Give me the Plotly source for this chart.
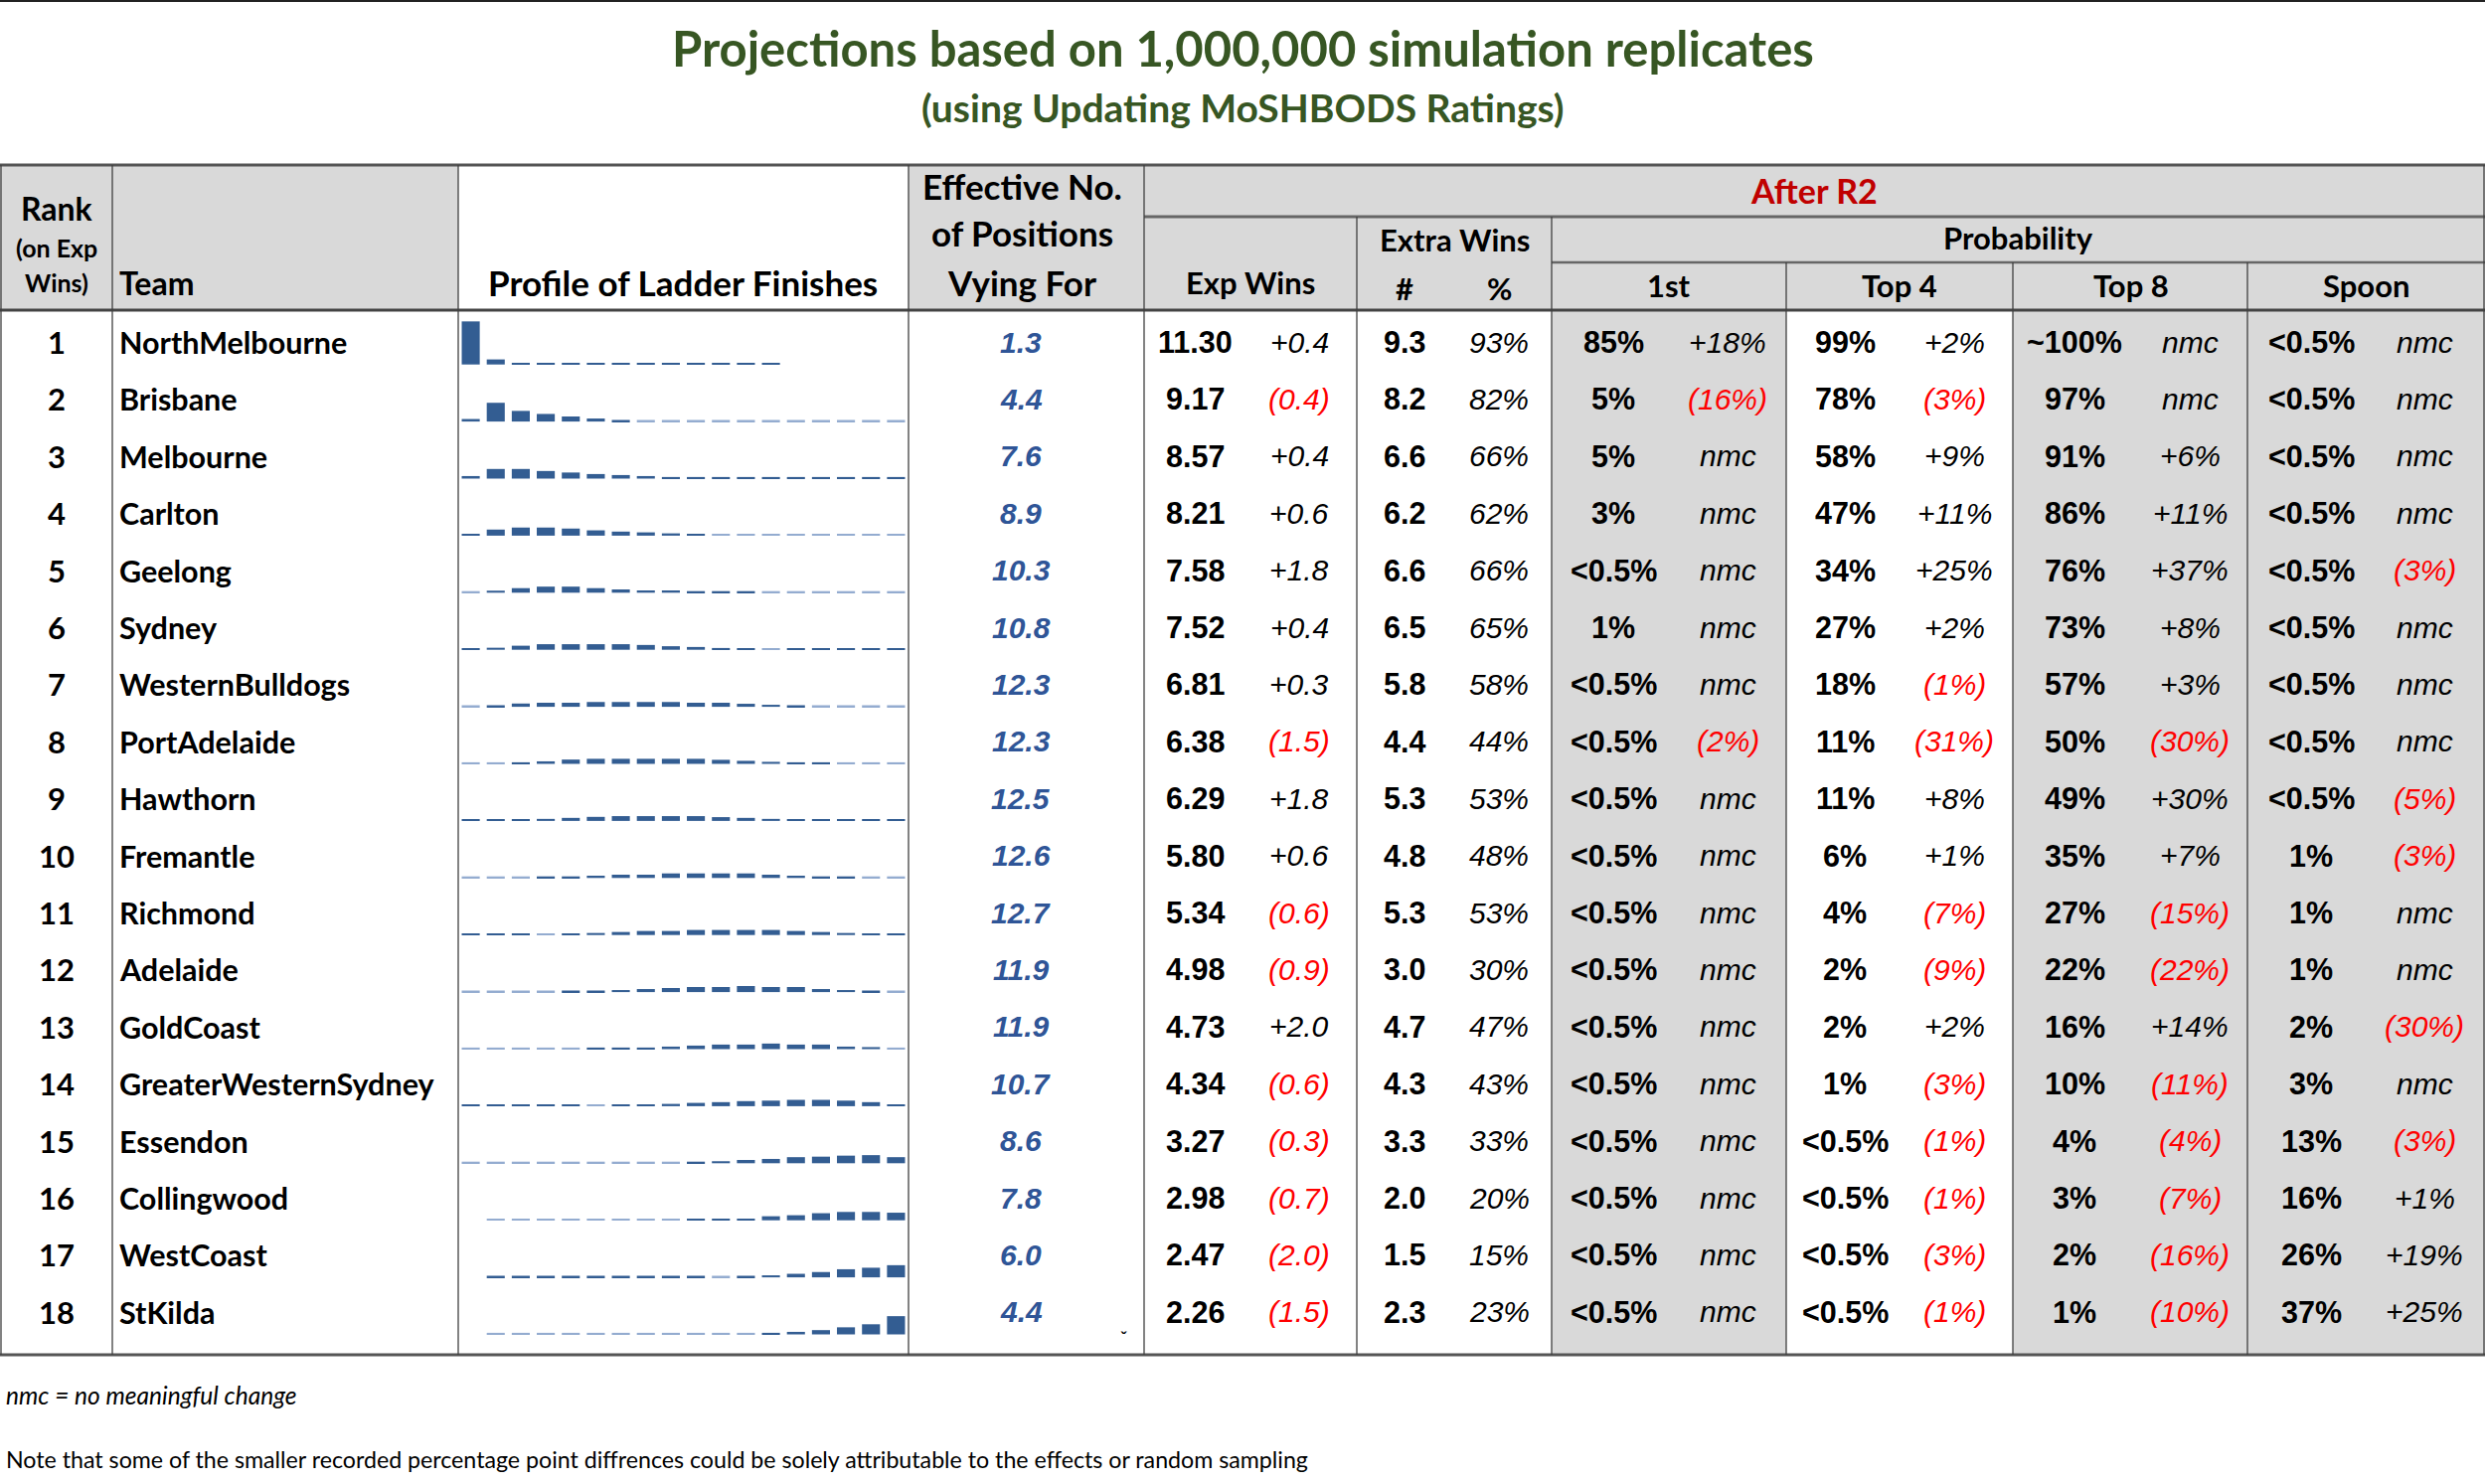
import plotly.graph_objects as go

# ---- data ----
teams = ["NorthMelbourne", "Brisbane", "Melbourne", "Carlton", "Geelong", "Sydney",
         "WesternBulldogs", "PortAdelaide", "Hawthorn", "Fremantle", "Richmond", "Adelaide",
         "GoldCoast", "GreaterWesternSydney", "Essendon", "Collingwood", "WestCoast", "StKilda"]
ranks = list(range(1, 19))
eff_positions = ["1.3", "4.4", "7.6", "8.9", "10.3", "10.8", "12.3", "12.3", "12.5",
                 "12.6", "12.7", "11.9", "11.9", "10.7", "8.6", "7.8", "6.0", "4.4"]
exp_wins = ["11.30", "9.17", "8.57", "8.21", "7.58", "7.52", "6.81", "6.38", "6.29",
            "5.80", "5.34", "4.98", "4.73", "4.34", "3.27", "2.98", "2.47", "2.26"]
exp_wins_chg = ["+0.4", "(0.4)", "+0.4", "+0.6", "+1.8", "+0.4", "+0.3", "(1.5)", "+1.8",
                "+0.6", "(0.6)", "(0.9)", "+2.0", "(0.6)", "(0.3)", "(0.7)", "(2.0)", "(1.5)"]
extra_wins = ["9.3", "8.2", "6.6", "6.2", "6.6", "6.5", "5.8", "4.4", "5.3",
              "4.8", "5.3", "3.0", "4.7", "4.3", "3.3", "2.0", "1.5", "2.3"]
extra_pct = ["93%", "82%", "66%", "62%", "66%", "65%", "58%", "44%", "53%",
             "48%", "53%", "30%", "47%", "43%", "33%", "20%", "15%", "23%"]
p_first = ["85%", "5%", "5%", "3%", "<0.5%", "1%"] + ["<0.5%"] * 12
p_first_chg = ["+18%", "(16%)", "nmc", "nmc", "nmc", "nmc", "nmc", "(2%)", "nmc",
               "nmc", "nmc", "nmc", "nmc", "nmc", "nmc", "nmc", "nmc", "nmc"]
p_top4 = ["99%", "78%", "58%", "47%", "34%", "27%", "18%", "11%", "11%",
          "6%", "4%", "2%", "2%", "1%", "<0.5%", "<0.5%", "<0.5%", "<0.5%"]
p_top4_chg = ["+2%", "(3%)", "+9%", "+11%", "+25%", "+2%", "(1%)", "(31%)", "+8%",
              "+1%", "(7%)", "(9%)", "+2%", "(3%)", "(1%)", "(1%)", "(3%)", "(1%)"]
p_top8 = ["~100%", "97%", "91%", "86%", "76%", "73%", "57%", "50%", "49%",
          "35%", "27%", "22%", "16%", "10%", "4%", "3%", "2%", "1%"]
p_top8_chg = ["nmc", "nmc", "+6%", "+11%", "+37%", "+8%", "+3%", "(30%)", "+30%",
              "+7%", "(15%)", "(22%)", "+14%", "(11%)", "(4%)", "(7%)", "(16%)", "(10%)"]
p_spoon = ["<0.5%"] * 9 + ["1%", "1%", "1%", "2%", "3%", "13%", "16%", "26%", "37%"]
p_spoon_chg = ["nmc", "nmc", "nmc", "nmc", "(3%)", "nmc", "nmc", "nmc", "(5%)",
               "(3%)", "nmc", "nmc", "(30%)", "nmc", "(3%)", "+1%", "+19%", "+25%"]

# ladder finish profile (% chance of finishing 1st..18th), read off the sparklines
# None = no bar, 0 = lowest (pale) bar
ladder_positions = list(range(1, 19))
profile = [
    [85, 10, 3, 1, 0.5, 0.4, 0.3, 0.2, 0.2, 0.1, 0.1, 0.1, 0.1, None, None, None, None, None],
    [5, 37, 21, 15, 10, 6, 3, 0, 0, 0, 0, 0, 0, 0, 0, 0, 0, 0],
    [5, 19, 19, 15, 12, 9, 7, 5, 3, 1, 0.5, 0.5, 0.4, 0.3, 0.3, 0.2, 0.2, 0.1],
    [3, 12, 16, 16, 14, 10.5, 8, 6.5, 4.5, 2.5, 0, 0, 0, 0, 0, 0, 0, 0],
    [0, 4, 9, 12, 12, 9, 6.5, 4.5, 4.5, 2.5, 1.5, 1.5, 0, 0, 0, 0, 0, 0],
    [1, 4, 8, 11, 11, 11, 11, 9.5, 7, 5.5, 3.5, 1.5, 0, 0.5, 0.4, 0.3, 0.2, 0.1],
    [0, 1.5, 6.5, 8, 8, 9.5, 9.5, 9.5, 9.5, 8, 8, 6, 4, 1.5, 0, 0, 0, 0],
    [0, 0, 1.5, 5, 8.5, 10, 10, 10, 10, 10, 8, 6, 4, 2, 2, 0, 0, 0],
    [0.5, 0.5, 2, 4, 6, 8, 9.5, 9.5, 9.5, 9.5, 7.5, 6, 4, 2, 2, 0.5, 0.3, 0.2],
    [0, 0, 0, 1.5, 3, 4.5, 6.5, 6.5, 9, 9, 9, 9, 6.5, 4.5, 2.5, 1.5, 0, 0],
    [0.3, 0.3, 0.3, 0, 2, 4, 6, 8, 8, 10, 10, 10, 10, 8, 6, 4, 2, 1],
    [0, 0, 0, 0, 1, 1, 4, 6, 8, 10, 10, 12, 10, 10, 6, 4, 1.5, 0],
    [0, 0, 0, 0, 0, 1, 1.5, 3, 5, 7, 9, 9, 11, 9, 9, 5, 4, 0],
    [0.3, 0.3, 0.3, 0.3, 0.3, 0, 2.5, 2.5, 4.5, 6.5, 8, 10, 11, 12.5, 12.5, 11, 8, 3],
    [0, 0, 0, 0, 0, 0, 0, 0, 0, 2, 4, 6.5, 8.5, 12, 13, 15, 16, 12],
    [None, 0, 0, 0, 0, 0, 0, 0, 0, 1, 1, 3, 8, 10, 14, 16.5, 16.5, 15],
    [None, 0.2, 0.2, 0.2, 0.2, 0.2, 0.2, 0.2, 0.2, 0.2, 0, 2, 4, 7, 10.5, 16, 19, 24],
    [None, 0, 0, 0, 0, 0, 0, 0, 0, 0, 0, 0, 1, 5, 8.5, 14, 20, 36],
]

# ---- layout constants (pixel space) ----
W, H = 2500, 1493
HEAD_TOP, HEAD_BOT, TABLE_BOT = 166, 312, 1363
ROW0, ROW_STEP = 344, 57.4
SPARK_DROP = 22.7           # baseline below row centre
PX_PER_PCT = 0.51
MIN_BAR = 1.6

NUM_FONT = "Liberation Sans, Arial, sans-serif"
HEAD_FONT = "Lato, Open Sans, sans-serif"
DARK_BAR, PALE_BAR = "#335d92", "#94acd0"
GREY = "#d9d9d9"
LINE = "#3f3f3f"
RED = "#ff0000"

fig = go.Figure()

# sparkline bars
bx, bbase, bh, bcol = [], [], [], []
for r, row in enumerate(profile):
    base = ROW0 + r * ROW_STEP + SPARK_DROP
    for pos, v in zip(ladder_positions, row):
        if v is None:
            continue
        bx.append(pos)
        bbase.append(base)
        bh.append(-max(v * PX_PER_PCT, MIN_BAR))
        bcol.append(PALE_BAR if v == 0 else DARK_BAR)

fig.add_trace(go.Bar(x=bx, y=bh, base=bbase, width=0.72, xaxis="x2", yaxis="y",
                     marker=dict(color=bcol, line=dict(width=0)), hoverinfo="skip",
                     showlegend=False))

shapes = []


def rect(x0, y0, x1, y1, color):
    shapes.append(dict(type="rect", xref="x", yref="y", x0=x0, y0=y0, x1=x1, y1=y1,
                       fillcolor=color, line=dict(width=0), layer="below"))


def hline(y, x0, x1, w=1.5, color=LINE):
    shapes.append(dict(type="line", xref="x", yref="y", x0=x0, x1=x1, y0=y, y1=y,
                       line=dict(color=color, width=w)))


def vline(x, y0, y1, w=1.3, color=LINE):
    shapes.append(dict(type="line", xref="x", yref="y", x0=x, x1=x, y0=y0, y1=y1,
                       line=dict(color=color, width=w)))


rect(0, HEAD_TOP, W, HEAD_BOT, GREY)
for x0, x1 in [(1561, 1797), (2025, 2261), (2261, W)]:
    rect(x0, HEAD_BOT, x1, TABLE_BOT, GREY)

hline(1, 0, W, 2, "#222222")
hline(HEAD_TOP, 0, W, 3, "#555555")
hline(HEAD_BOT, 0, W, 3, "#444444")
hline(TABLE_BOT, 0, W, 3, "#555555")
hline(218, 1151, W, 3, "#666666")
hline(264, 1561, W, 2.5, "#666666")
for x in [1, 113, 461, 914, 1151, 2499]:
    vline(x, HEAD_TOP, TABLE_BOT)
for x in [1365, 1561]:
    vline(x, 218, TABLE_BOT)
for x in [1797, 2025, 2261]:
    vline(x, 264, TABLE_BOT)

ann = []


def txt(x, y, s, size, color="black", family=HEAD_FONT, anchor="center", bold=True, italic=False):
    if italic:
        s = "<i>" + s + "</i>"
    if bold:
        s = "<b>" + s + "</b>"
    ann.append(dict(x=x, y=y, xref="x", yref="y", text=s, showarrow=False,
                    xanchor=anchor, yanchor="middle",
                    font=dict(family=family, size=size, color=color)))


# titles
txt(1250, 48, "Projections based on 1,000,000 simulation replicates", 49, "#375623")
txt(1250, 108, "(using Updating MoSHBODS Ratings)", 39, "#375623")

# header
txt(57, 209, "Rank", 32)
txt(57, 249, "(on Exp", 25)
txt(57, 284, "Wins)", 25)
txt(118, 284, "Team", 32, anchor="left")
txt(687, 284, "Profile of Ladder Finishes", 35)
txt(1028, 187, "Effective No.", 35)
txt(1028, 234, "of Positions", 35)
txt(1028, 284, "Vying For", 35)
txt(1825, 191, "After R2", 34, "#c00000")
txt(1258, 284, "Exp Wins", 31)
txt(1463, 241, "Extra Wins", 31)
txt(1413, 290, "#", 31)
txt(1508, 290, "%", 31)
txt(2030, 239, "Probability", 31)
for x, s in [(1679, "1st"), (1911, "Top 4"), (2144, "Top 8"), (2380, "Spoon")]:
    txt(x, 287, s, 31)

# body
pairs = [
    (1202, 1307, exp_wins, exp_wins_chg),
    (1623, 1738, p_first, p_first_chg),
    (1856, 1966, p_top4, p_top4_chg),
    (2087, 2203, p_top8, p_top8_chg),
    (2325, 2439, p_spoon, p_spoon_chg),
]
for r in range(len(teams)):
    y = ROW0 + r * ROW_STEP
    txt(57, y, str(ranks[r]), 31)
    txt(118, y, teams[r], 30.5, anchor="left")
    txt(1027, y, eff_positions[r], 30, "#2f5597", NUM_FONT, italic=True)
    txt(1413, y, extra_wins[r], 30.5, family=NUM_FONT)
    txt(1508, y, extra_pct[r], 30, family=NUM_FONT, bold=False, italic=True)
    for xv, xc, vals, chg in pairs:
        txt(xv, y, vals[r], 30.5, family=NUM_FONT)
        c = chg[r]
        txt(xc, y, c, 30, RED if c.startswith("(") else "black", NUM_FONT,
            bold=False, italic=True)

# small stray mark in the bottom of the effective-positions cell
txt(1130, 1346, "ˇ", 18)

# notes
txt(4, 1403, "nmc = no meaningful change", 24.5, anchor="left", bold=False, italic=True)
txt(4, 1468, "Note that some of the smaller recorded percentage point diffrences could be "
             "solely attributable to the effects or random sampling", 23.2, anchor="left", bold=False)

fig.update_layout(
    width=W, height=H, margin=dict(l=0, r=0, t=0, b=0),
    paper_bgcolor="white", plot_bgcolor="white",
    xaxis=dict(range=[0, W], domain=[0, 1], visible=False, fixedrange=True),
    yaxis=dict(range=[H, 0], domain=[0, 1], visible=False, fixedrange=True),
    xaxis2=dict(range=[0.5, 18.5], domain=[461 / W, 914 / W], anchor="y",
                visible=False, fixedrange=True),
    shapes=shapes, annotations=ann, showlegend=False,
)

fig.write_html("out.html", config={"displayModeBar": False},
               post_script="document.body.style.margin='0px';")
